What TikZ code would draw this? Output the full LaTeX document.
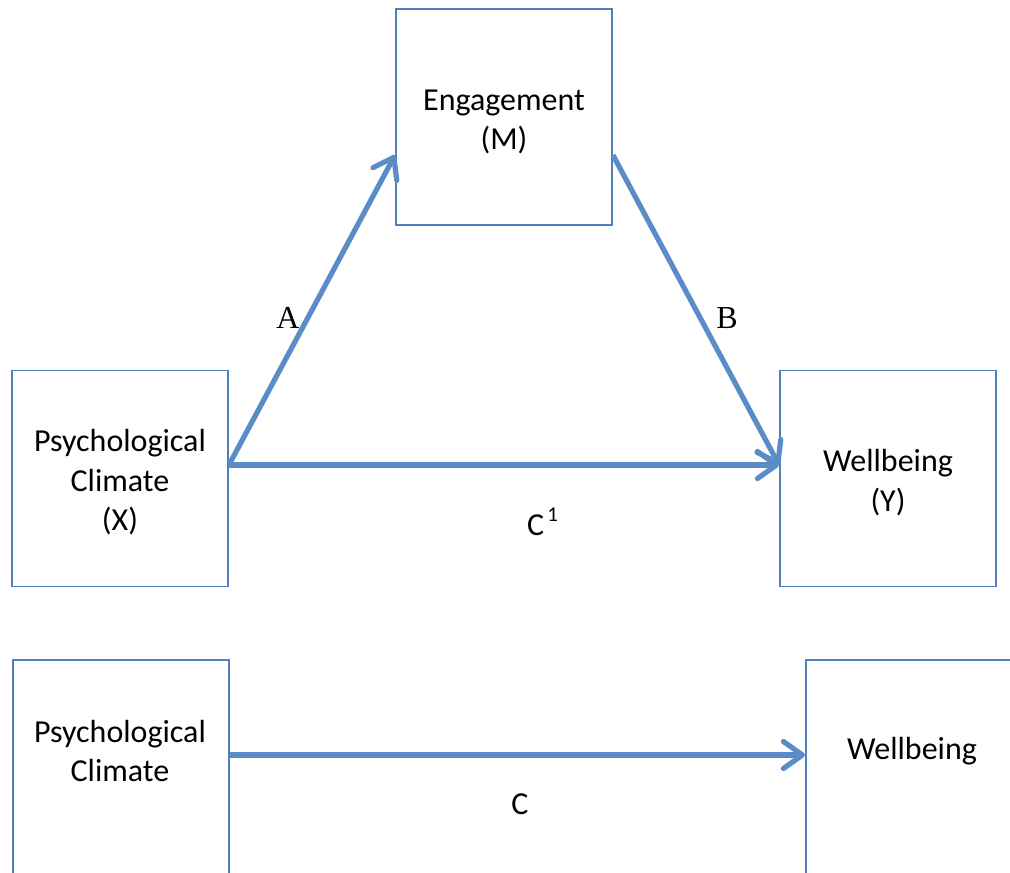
\documentclass[tikz,border=0pt]{standalone}
\usepackage{fontspec}
\setmainfont{Carlito}
\newfontfamily\serifA{Liberation Serif}
\usetikzlibrary{arrows.meta}
\definecolor{boxblue}{HTML}{4F81BD}
\definecolor{arrblue}{HTML}{5A8CC8}
\tikzset{
  varbox/.style={draw=boxblue, line width=1.8pt, minimum width=216pt, minimum height=216pt, inner sep=0pt},
  txt/.style={align=center, inner sep=0pt, font=\fontsize{32}{39.5}\selectfont},
  pathlbl/.style={inner sep=0pt, font=\serifA\fontsize{32}{36}\selectfont},
  arr/.style={draw=arrblue, line width=5.2pt, -{Straight Barb[length=19pt,width=27pt,line cap=round,round]}}
}
\begin{document}
\begin{tikzpicture}[x=1pt,y=-1pt]
\useasboundingbox (0,0) rectangle (1010,873);
\clip (0,0) rectangle (1010,873);
\node[varbox] (M) at (504,117) {};
\node[varbox] (X) at (120,478.5) {};
\node[varbox] (Y) at (888,478.5) {};
\node[varbox, anchor=north west] (X2) at (12,659) {};
\node[varbox, anchor=north west] (Y2) at (805,659) {};
\node[txt] (Mt) at (504,122) {Engagement\\(M)};
\node[txt] (Xt) at (120,482.5) {Psychological\\Climate\\(X)};
\node[txt] (Yt) at (888,482.5) {Wellbeing\\(Y)};
\node[txt] (X2t) at (120,751) {Psychological\\Climate};
\node[txt] (Y2t) at (912,751) {Wellbeing};
\coordinate (xo) at ([yshift=13.5pt]X.east);
\coordinate (mi) at ([yshift=-38pt]M.west);
\coordinate (mo) at ([yshift=-38pt]M.east);
\coordinate (yi) at ([yshift=13.5pt]Y.west);
\coordinate (x2o) at (X2.east |- 0,755);
\coordinate (y2i) at (Y2.west |- 0,755);
\draw[arr] (xo) -- (mi);
\draw[arr] (mo) -- (yi);
\draw[arr] (xo) -- (yi);
\draw[arr] (x2o) -- (y2i);
\node[pathlbl] (A) at (288,318) {A};
\node[pathlbl] (B) at (727,318) {B};
\node[txt, anchor=base west] (C1) at (527,535) {C\kern3pt\raisebox{14pt}{\fontsize{21}{21}\selectfont 1}};
\node[txt] (C) at (520,804) {C};
\end{tikzpicture}
\end{document}
